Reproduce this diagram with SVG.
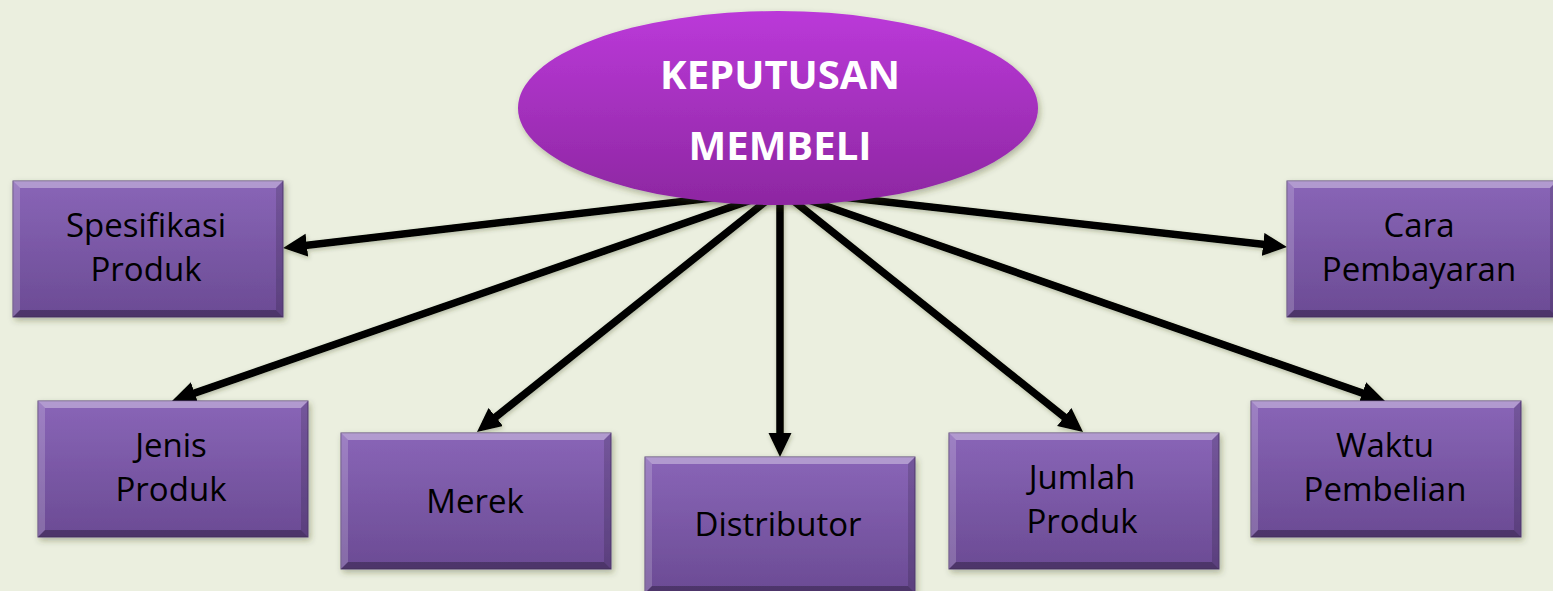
<svg xmlns="http://www.w3.org/2000/svg" xmlns:xlink="http://www.w3.org/1999/xlink" width="1553" height="591" viewBox="0 0 1553 591">
  <style>
    .lbl { font-family: "Open Sans", "Noto Sans", "Liberation Sans", sans-serif; font-size: 33px; fill: #000; text-anchor: middle; }
    .title { font-family: "Open Sans", "Noto Sans", "Liberation Sans", sans-serif; font-size: 40px; font-weight: bold; fill: #fff; text-anchor: middle; }
    .link { stroke: #000; stroke-width: 7.5; fill: none; marker-end: url(#head); }
  </style>
  <defs>
    <linearGradient id="ovalFill" x1="0" y1="0" x2="0" y2="1">
      <stop offset="0" stop-color="#bb39d9"/>
      <stop offset="1" stop-color="#8d27a1"/>
    </linearGradient>
    <linearGradient id="boxFill" x1="0" y1="0" x2="0" y2="1">
      <stop offset="0" stop-color="#8965b7"/>
      <stop offset="1" stop-color="#6b4b94"/>
    </linearGradient>
    <filter id="shadow" x="-10%" y="-10%" width="125%" height="130%">
      <feDropShadow dx="2" dy="3" stdDeviation="3" flood-color="#3a4020" flood-opacity="0.35"/>
    </filter>
    <filter id="lineShadow" x="-5%" y="-5%" width="110%" height="115%">
      <feDropShadow dx="1" dy="2" stdDeviation="2" flood-color="#3a4020" flood-opacity="0.3"/>
    </filter>
    <marker id="head" markerUnits="userSpaceOnUse" markerWidth="26" markerHeight="24" refX="4" refY="11.5" orient="auto">
      <path d="M0,0 L24,11.5 L0,23 z" fill="#000"/>
    </marker>
    <!-- bevelled purple box, 270 x 136 -->
    <g id="box">
      <rect width="270" height="136" fill="url(#boxFill)" stroke="#5a407a" stroke-width="1"/>
      <polygon points="0,0 270,0 263,7 7,7" fill="#fff" opacity="0.35"/>
      <polygon points="0,0 7,7 7,129 0,136" fill="#fff" opacity="0.18"/>
      <polygon points="270,0 270,136 263,129 263,7" fill="#000" opacity="0.15"/>
      <polygon points="0,136 7,129 263,129 270,136" fill="#000" opacity="0.28"/>
    </g>
  </defs>

  <rect width="1553" height="591" fill="#ebefdf"/>

  <!-- connectors from the central oval to each factor -->
  <g id="connectors" filter="url(#lineShadow)">
    <line class="link" x1="780" y1="190" x2="302.9" y2="245.7"/>
    <line class="link" x1="780" y1="190" x2="1267.1" y2="244.8"/>
    <line class="link" x1="780" y1="190" x2="190.9" y2="394.4"/>
    <line class="link" x1="780" y1="190" x2="492.6" y2="419.5"/>
    <line class="link" x1="780" y1="190" x2="780" y2="437"/>
    <line class="link" x1="780" y1="190" x2="1067.4" y2="419.5"/>
    <line class="link" x1="780" y1="190" x2="1366.1" y2="394.4"/>
  </g>

  <g id="keputusan-membeli">
    <ellipse cx="778" cy="108" rx="260" ry="97" fill="url(#ovalFill)" filter="url(#shadow)"/>
    <text class="title" x="780" y="89">KEPUTUSAN</text>
    <text class="title" x="780" y="160">MEMBELI</text>
  </g>

  <g id="spesifikasi-produk">
    <use xlink:href="#box" x="13" y="181" filter="url(#shadow)"/>
    <text class="lbl" x="146" y="237">Spesifikasi</text>
    <text class="lbl" x="146" y="281">Produk</text>
  </g>

  <g id="cara-pembayaran">
    <use xlink:href="#box" x="1287" y="181" filter="url(#shadow)"/>
    <text class="lbl" x="1419" y="237">Cara</text>
    <text class="lbl" x="1419" y="281">Pembayaran</text>
  </g>

  <g id="jenis-produk">
    <use xlink:href="#box" x="38" y="401" filter="url(#shadow)"/>
    <text class="lbl" x="171" y="457">Jenis</text>
    <text class="lbl" x="171" y="501">Produk</text>
  </g>

  <g id="merek">
    <use xlink:href="#box" x="341" y="433" filter="url(#shadow)"/>
    <text class="lbl" x="475" y="513">Merek</text>
  </g>

  <g id="distributor">
    <use xlink:href="#box" x="645" y="457" filter="url(#shadow)"/>
    <text class="lbl" x="778" y="536">Distributor</text>
  </g>

  <g id="jumlah-produk">
    <use xlink:href="#box" x="949" y="433" filter="url(#shadow)"/>
    <text class="lbl" x="1082" y="489">Jumlah</text>
    <text class="lbl" x="1082" y="533">Produk</text>
  </g>

  <g id="waktu-pembelian">
    <use xlink:href="#box" x="1251" y="401" filter="url(#shadow)"/>
    <text class="lbl" x="1385" y="457">Waktu</text>
    <text class="lbl" x="1385" y="501">Pembelian</text>
  </g>
</svg>
